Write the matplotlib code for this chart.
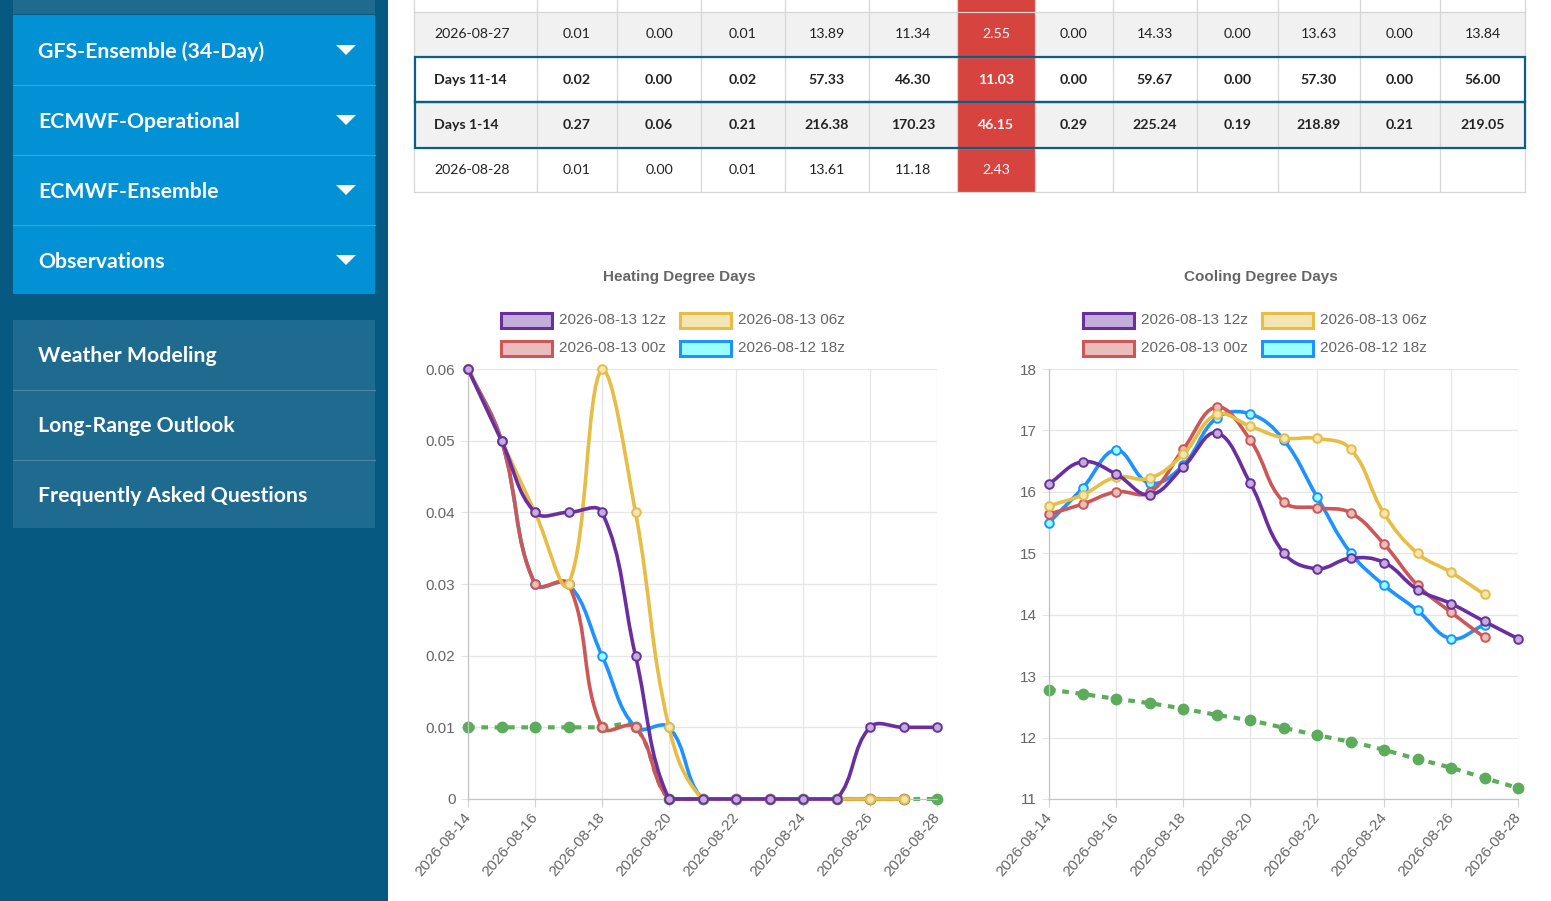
import numpy as np
import matplotlib
matplotlib.use("Agg")
import matplotlib.pyplot as plt
from matplotlib.patches import Rectangle, Polygon, PathPatch
from matplotlib.path import Path

W, H = 1551, 901

# ---------------- data ----------------
dates = ["2026-08-14", "2026-08-15", "2026-08-16", "2026-08-17", "2026-08-18",
         "2026-08-19", "2026-08-20", "2026-08-21", "2026-08-22", "2026-08-23",
         "2026-08-24", "2026-08-25", "2026-08-26", "2026-08-27", "2026-08-28"]

series_labels = ["2026-08-13 12z", "2026-08-13 06z", "2026-08-13 00z", "2026-08-12 18z"]
series_colors = ["#6a2f9f", "#e6bd45", "#cd5656", "#1e93ff"]
series_fills = ["#c2aed8", "#f4e5b5", "#ebbcbc", "#99ffff"]
normal_color = "#5cac5c"

hdd_12z = [0.06, 0.05, 0.04, 0.04, 0.04, 0.02, 0.00, 0.00, 0.00, 0.00, 0.00, 0.00, 0.01, 0.01, 0.01]
hdd_06z = [0.06, 0.05, 0.04, 0.03, 0.06, 0.04, 0.01, 0.00, 0.00, 0.00, 0.00, 0.00, 0.00, 0.00]
hdd_00z = [0.06, 0.05, 0.03, 0.03, 0.01, 0.01, 0.00, 0.00, 0.00, 0.00, 0.00, 0.00, 0.00, 0.00]
hdd_18z = [0.06, 0.05, 0.03, 0.03, 0.02, 0.01, 0.01, 0.00, 0.00, 0.00, 0.00, 0.00, 0.00, 0.00]
hdd_normal = [0.01, 0.01, 0.01, 0.01, 0.01, 0.01, 0.00, 0.00, 0.00, 0.00, 0.00, 0.00, 0.00, 0.00, 0.00]

cdd_12z = [16.13, 16.49, 16.29, 15.95, 16.40, 16.96, 16.15, 15.01, 14.75, 14.92, 14.85, 14.41, 14.18, 13.89, 13.61]
cdd_06z = [15.77, 15.95, 16.24, 16.22, 16.61, 17.26, 17.07, 16.88, 16.87, 16.70, 15.65, 15.00, 14.69, 14.33]
cdd_00z = [15.64, 15.80, 16.00, 15.99, 16.69, 17.38, 16.85, 15.84, 15.74, 15.66, 15.15, 14.48, 14.04, 13.63]
cdd_18z = [15.50, 16.06, 16.68, 16.14, 16.43, 17.20, 17.27, 16.85, 15.92, 15.01, 14.48, 14.07, 13.61, 13.84]
cdd_normal = [12.78, 12.71, 12.63, 12.56, 12.47, 12.37, 12.28, 12.16, 12.04, 11.93, 11.80, 11.65, 11.51, 11.34, 11.18]

hdd_yticks = [0, 0.01, 0.02, 0.03, 0.04, 0.05, 0.06]
cdd_yticks = [11, 12, 13, 14, 15, 16, 17, 18]
hdd_title = "Heating Degree Days"
cdd_title = "Cooling Degree Days"

sidebar_top_items = ["GFS-Ensemble (34-Day)", "ECMWF-Operational", "ECMWF-Ensemble", "Observations"]
sidebar_bottom_items = ["Weather Modeling", "Long-Range Outlook", "Frequently Asked Questions"]

table_labels = ["2026-08-27", "Days 11-14", "Days 1-14", "2026-08-28"]
table_row_0827 = ["0.01", "0.00", "0.01", "13.89", "11.34", "2.55", "0.00", "14.33", "0.00", "13.63", "0.00", "13.84"]
table_row_d1114 = ["0.02", "0.00", "0.02", "57.33", "46.30", "11.03", "0.00", "59.67", "0.00", "57.30", "0.00", "56.00"]
table_row_d114 = ["0.27", "0.06", "0.21", "216.38", "170.23", "46.15", "0.29", "225.24", "0.19", "218.89", "0.21", "219.05"]
table_row_0828 = ["0.01", "0.00", "0.01", "13.61", "11.18", "2.43", "", "", "", "", "", ""]

# ---------------- figure ----------------
fig = plt.figure(figsize=(W / 100, H / 100), dpi=100)
fig.patch.set_facecolor("white")
bg = fig.add_axes([0, 0, 1, 1], zorder=0)
bg.set_xlim(0, W)
bg.set_ylim(H, 0)
bg.axis("off")

# ---- sidebar ----
bg.add_patch(Rectangle((0, 0), 388, H, color="#065a82", lw=0))
bg.add_patch(Rectangle((13, 0), 362, 14, color="#1f6a8f", lw=0))
bg.add_patch(Rectangle((13, 15), 362, 279, color="#0191d4", lw=0))
bg.add_patch(Rectangle((13, 320), 362, 208, color="#1f6a8f", lw=0))
side_font = dict(family=["Lato", "DejaVu Sans"], fontsize=15.3, fontweight="bold", color="white")
for i, lab in enumerate(sidebar_top_items):
    top = 15 + i * 70
    if i > 0:
        bg.plot([13, 375], [top, top], color="#3aa6de", lw=0.8)
    cy = top + 35
    bg.text(38, cy + 1.5, lab, va="center", ha="left", **side_font)
    bg.add_patch(Polygon([(336, cy - 5), (356, cy - 5), (346, cy + 5)], closed=True, color="white", lw=0))
for i, lab in enumerate(sidebar_bottom_items):
    top = 320 + i * 70
    if i > 0:
        bg.plot([13, 375], [top, top], color="#4a88a9", lw=0.8)
    bg.text(38, top + 35.5, lab, va="center", ha="left", **side_font)

# ---- table ----
col_edges = [414, 537, 617, 701, 785, 869, 957, 1035, 1113, 1197, 1278, 1360, 1440, 1525]
row_edges = [0, 12, 57, 102, 148, 192]
row_bgs = ["white", "#f1f1f1", "white", "#f1f1f1", "white"]
rows = [None, table_row_0827, table_row_d1114, table_row_d114, table_row_0828]
labels = [None] + table_labels
for r in range(5):
    y0, y1 = row_edges[r], row_edges[r + 1]
    bg.add_patch(Rectangle((414, y0), 1111, y1 - y0, color=row_bgs[r], lw=0))
bg.add_patch(Rectangle((957, 0), 78, 192, color="#d7433f", lw=0))
for x in col_edges:
    bg.plot([x, x], [0, 192], color="#d6d6d6", lw=0.9)
for y in row_edges[1:]:
    bg.plot([414, 1525], [y, y], color="#d6d6d6", lw=0.9)
for r in range(1, 5):
    yc = (row_edges[r] + row_edges[r + 1]) / 2
    bold = labels[r].startswith("Days")
    fw = "bold" if bold else "normal"
    bg.text(434, yc, labels[r], ha="left", va="center",
            family=["Lato", "DejaVu Sans"], fontsize=10.2, fontweight=fw, color="#222222")
    for c, v in enumerate(rows[r]):
        xc = (col_edges[c + 1] + col_edges[c + 2]) / 2
        col = "white" if c == 5 else "#222222"
        bg.text(xc, yc, v, ha="center", va="center", family=["Lato", "DejaVu Sans"],
                fontsize=10.2, fontweight=fw, color=col)
for r in (2, 3):
    bg.add_patch(Rectangle((415, row_edges[r]), 1110, row_edges[r + 1] - row_edges[r],
                           fill=False, edgecolor="#0b5f87", lw=1.6, zorder=5))


# ---------------- charts ----------------
def ax_rect(l, t, r, b):
    return [l / W, 1 - b / H, (r - l) / W, (b - t) / H]


def spline_path(xs, ys, sx, sy, xlim, ylim, t=0.4):
    px = np.asarray(xs, float) * sx
    py = np.asarray(ys, float) * sy
    n = len(px)
    pcp, ncp = [], []
    for i in range(n):
        a = max(i - 1, 0)
        b = min(i + 1, n - 1)
        d01 = np.hypot(px[i] - px[a], py[i] - py[a])
        d12 = np.hypot(px[b] - px[i], py[b] - py[i])
        tot = d01 + d12
        s01 = d01 / tot if tot else 0
        s12 = d12 / tot if tot else 0
        fa, fb = t * s01, t * s12
        p = (px[i] - fa * (px[b] - px[a]), py[i] - fa * (py[b] - py[a]))
        q = (px[i] + fb * (px[b] - px[a]), py[i] + fb * (py[b] - py[a]))
        pcp.append(p)
        ncp.append(q)

    def cap(pt):
        x = min(max(pt[0] / sx, xlim[0]), xlim[1])
        y = min(max(pt[1] / sy, ylim[0]), ylim[1])
        return (x, y)

    verts = [(xs[0], ys[0])]
    codes = [Path.MOVETO]
    for i in range(1, n):
        verts += [cap(ncp[i - 1]), cap(pcp[i]), (xs[i], ys[i])]
        codes += [Path.CURVE4] * 3
    return Path(verts, codes)


def curve(ax, vals, ymin, ymax, sx, sy, **kw):
    xs = np.arange(len(vals))
    ys = np.asarray(vals, float)
    path = spline_path(xs, ys - ymin, sx, sy, (0, len(dates) - 1), (0, ymax - ymin))
    path = Path(path.vertices + np.array([0, ymin]), path.codes)
    ax.add_patch(PathPatch(path, fill=False, clip_on=False, **kw))
    return xs, ys


def make_chart(rect, title, title_x, series, normal, yticks, legend_x):
    ax = fig.add_axes(ax_rect(*rect), zorder=2)
    ax.set_facecolor("none")
    ymin, ymax = yticks[0], yticks[-1]
    ax.set_xlim(0, len(dates) - 1)
    ax.set_ylim(ymin, ymax)
    sx = (rect[2] - rect[0]) / (len(dates) - 1)
    sy = (rect[3] - rect[1]) / (ymax - ymin)
    # normal line
    xn, yn = curve(ax, normal, ymin, ymax, sx, sy, edgecolor=normal_color, lw=3.0,
                   linestyle=(0, (1.6, 1.6)), zorder=2)
    ax.plot(xn, yn, linestyle="none", marker="o", markersize=7.5, markerfacecolor=normal_color,
            markeredgecolor=normal_color, zorder=2.5, clip_on=False)
    zs = [10, 8, 6, 4]
    for k, vals in enumerate(series):
        xs, ys = curve(ax, vals, ymin, ymax, sx, sy, edgecolor=series_colors[k], lw=2.6,
                       capstyle="round", joinstyle="round", zorder=zs[k])
        ax.plot(xs, ys, linestyle="none", marker="o", markersize=6.2,
                markerfacecolor=series_fills[k], markeredgecolor=series_colors[k],
                markeredgewidth=1.4, zorder=zs[k] + 0.5, clip_on=False)
    ax.set_yticks(yticks)
    ax.set_yticklabels([f"{v:g}" for v in yticks])
    ticks = list(range(0, len(dates), 2))
    ax.set_xticks(ticks)
    ax.set_xticklabels([dates[i] for i in ticks], rotation=50, ha="right", va="center",
                       rotation_mode="anchor")
    for lab in ax.get_xticklabels() + ax.get_yticklabels():
        lab.set_family(["Liberation Sans", "DejaVu Sans"])
        lab.set_fontsize(11)
        lab.set_color("#666666")
    ax.tick_params(axis="x", length=6, width=0.8, color="#d0d0d0", pad=5)
    ax.tick_params(axis="y", length=5, width=0.8, color="#e4e4e4", pad=4)
    ax.grid(True, color="#e6e6e6", lw=0.9)
    ax.set_axisbelow(True)
    for s in ("top", "right"):
        ax.spines[s].set_visible(False)
    for s in ("left", "bottom"):
        ax.spines[s].set_color("#c4c4c4")
        ax.spines[s].set_linewidth(0.9)
    # title
    bg.text(title_x, 277, title, ha="center", va="center", fontsize=11, fontweight="bold",
            color="#666666", family=["Liberation Sans", "DejaVu Sans"])
    # legend: row1 12z,06z ; row2 00z,18z
    order = [(0, 0, 0), (1, 0, 1), (2, 1, 0), (3, 1, 1)]
    for k, row, col in order:
        bx = legend_x + col * 179
        by = 320 + row * 28
        bg.add_patch(Rectangle((bx, by - 7.5), 51, 15, facecolor=series_fills[k],
                               edgecolor=series_colors[k], lw=2.2, zorder=3))
        bg.text(bx + 58, by, series_labels[k], ha="left", va="center", fontsize=11,
                color="#666666", family=["Liberation Sans", "DejaVu Sans"])
    return ax


make_chart((468, 369, 937, 799), hdd_title, 679,
           [hdd_12z, hdd_06z, hdd_00z, hdd_18z], hdd_normal, hdd_yticks, 501)
make_chart((1049, 369, 1518, 799), cdd_title, 1261,
           [cdd_12z, cdd_06z, cdd_00z, cdd_18z], cdd_normal, cdd_yticks, 1083)

fig.savefig("out.png", dpi=100)
